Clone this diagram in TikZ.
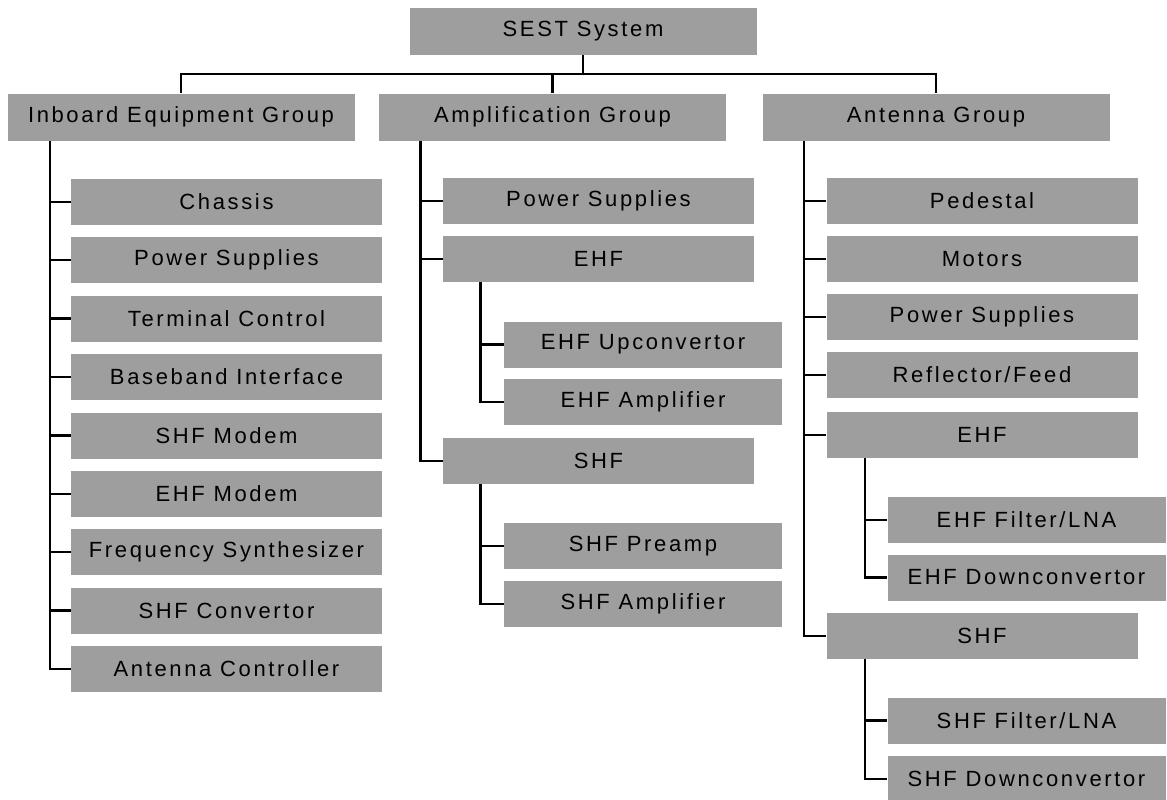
\documentclass[tikz,border=0pt]{standalone}
\usepackage{fontspec}
\newfontfamily\boxfont[LetterSpace=12]{Liberation Sans}
\definecolor{boxgray}{gray}{0.62}
\tikzset{
    box/.style={fill=boxgray, inner sep=0pt, font=\boxfont\fontsize{11}{13}\selectfont},
    topbox/.style={box, minimum width=173.5pt, minimum height=23.5pt},
    midbox/.style={box, minimum width=155.5pt, minimum height=23pt},
    lowbox/.style={box, minimum width=139pt, minimum height=23pt},
    link/.style={line width=1.3pt}
}
\begin{document}
\begin{tikzpicture}[x=0.5pt, y=-0.5pt]
    \useasboundingbox (0, 0) rectangle (1167, 799);
    \node[topbox] (sest) at (583, 31.5) {SEST System};
    \node[topbox] (inb) at (181, 117) {Inboard Equipment Group};
    \node[topbox] (amp) at (552.5, 117) {Amplification Group};
    \node[topbox] (ant) at (936, 117) {Antenna Group};
    \coordinate (bar) at (583, 74);

    \node[midbox] (inbchassis) at (226.5, 202) {Chassis};
    \node[midbox] (inbpower) at (226.5, 260) {Power Supplies};
    \node[midbox] (inbterm) at (226.5, 318.5) {Terminal Control};
    \node[midbox] (inbbase) at (226.5, 377) {Baseband Interface};
    \node[midbox] (inbshfmod) at (226.5, 435.5) {SHF Modem};
    \node[midbox] (inbehfmod) at (226.5, 494) {EHF Modem};
    \node[midbox] (inbsynth) at (226.5, 552) {Frequency Synthesizer};
    \node[midbox] (inbconv) at (226.5, 610.5) {SHF Convertor};
    \node[midbox] (inbctrl) at (226.5, 669) {Antenna Controller};

    \node[midbox] (amppower) at (598.5, 201) {Power Supplies};
    \node[midbox] (ampehf) at (598.5, 259) {EHF};
    \node[lowbox] (ampehfup) at (643, 344.5) {EHF Upconvertor};
    \node[lowbox] (ampehfamp) at (643, 402) {EHF Amplifier};
    \node[midbox] (ampshf) at (598.5, 461) {SHF};
    \node[lowbox] (ampshfpre) at (643, 546) {SHF Preamp};
    \node[lowbox] (ampshfamp) at (643, 604) {SHF Amplifier};

    \node[midbox] (antped) at (982, 201) {Pedestal};
    \node[midbox] (antmot) at (982, 259) {Motors};
    \node[midbox] (antpower) at (982, 317) {Power Supplies};
    \node[midbox] (antrefl) at (982, 375) {Reflector/Feed};
    \node[midbox] (antehf) at (982, 435) {EHF};
    \node[lowbox] (antehffil) at (1026.5, 520) {EHF Filter/LNA};
    \node[lowbox] (antehfdown) at (1026.5, 577.5) {EHF Downconvertor};
    \node[midbox] (antshf) at (982, 636) {SHF};
    \node[lowbox] (antshffil) at (1026.5, 720.5) {SHF Filter/LNA};
    \node[lowbox] (antshfdown) at (1026.5, 779) {SHF Downconvertor};

    \draw[link] (sest.south) -- (bar);
    \draw[link] (inb.north) |- (bar) -| (ant.north);
    \draw[link] (amp.north) -- (amp.north |- bar);

    \draw[link] ([xshift=21.5pt]inb.south west) |- (inbctrl.west);
    \draw[link] ([xshift=21.5pt]inb.south west |- inbchassis.west) -- (inbchassis.west);
    \draw[link] ([xshift=21.5pt]inb.south west |- inbpower.west) -- (inbpower.west);
    \draw[link] ([xshift=21.5pt]inb.south west |- inbterm.west) -- (inbterm.west);
    \draw[link] ([xshift=21.5pt]inb.south west |- inbbase.west) -- (inbbase.west);
    \draw[link] ([xshift=21.5pt]inb.south west |- inbshfmod.west) -- (inbshfmod.west);
    \draw[link] ([xshift=21.5pt]inb.south west |- inbehfmod.west) -- (inbehfmod.west);
    \draw[link] ([xshift=21.5pt]inb.south west |- inbsynth.west) -- (inbsynth.west);
    \draw[link] ([xshift=21.5pt]inb.south west |- inbconv.west) -- (inbconv.west);

    \draw[link] ([xshift=21pt]amp.south west) |- (ampshf.west);
    \draw[link] ([xshift=21pt]amp.south west |- amppower.west) -- (amppower.west);
    \draw[link] ([xshift=21pt]amp.south west |- ampehf.west) -- (ampehf.west);
    \draw[link] ([xshift=19pt]ampehf.south west) |- (ampehfamp.west);
    \draw[link] ([xshift=19pt]ampehf.south west |- ampehfup.west) -- (ampehfup.west);
    \draw[link] ([xshift=19pt]ampshf.south west) |- (ampshfamp.west);
    \draw[link] ([xshift=19pt]ampshf.south west |- ampshfpre.west) -- (ampshfpre.west);

    \draw[link] ([xshift=21pt]ant.south west) |- (antshf.west);
    \draw[link] ([xshift=21pt]ant.south west |- antped.west) -- (antped.west);
    \draw[link] ([xshift=21pt]ant.south west |- antmot.west) -- (antmot.west);
    \draw[link] ([xshift=21pt]ant.south west |- antpower.west) -- (antpower.west);
    \draw[link] ([xshift=21pt]ant.south west |- antrefl.west) -- (antrefl.west);
    \draw[link] ([xshift=21pt]ant.south west |- antehf.west) -- (antehf.west);
    \draw[link] ([xshift=19.5pt]antehf.south west) |- (antehfdown.west);
    \draw[link] ([xshift=19.5pt]antehf.south west |- antehffil.west) -- (antehffil.west);
    \draw[link] ([xshift=19.5pt]antshf.south west) |- (antshfdown.west);
    \draw[link] ([xshift=19.5pt]antshf.south west |- antshffil.west) -- (antshffil.west);
\end{tikzpicture}
\end{document}
